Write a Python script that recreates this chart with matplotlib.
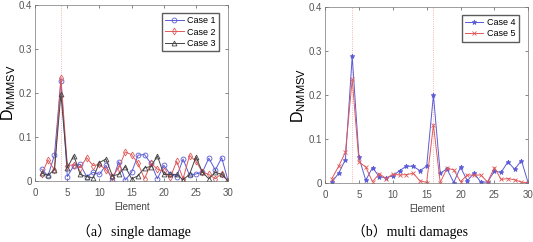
import matplotlib.pyplot as plt
import numpy as np

plt.rcParams['font.family'] = ['Liberation Sans', 'DejaVu Sans']
plt.rcParams['mathtext.fontset'] = 'custom'
plt.rcParams['mathtext.rm'] = 'Liberation Sans'

# Element numbers
elements = np.arange(1, 31)

# (a) single damage
case1 = [0.027, 0.012, 0.059, 0.228, 0.010, 0.035, 0.038, 0.010, 0.020, 0.015,
         0.036, 0.000, 0.044, 0.002, 0.020, 0.059, 0.060, 0.040, 0.005, 0.036,
         0.015, 0.010, 0.050, 0.013, 0.016, 0.020, 0.052, 0.025, 0.053, 0.000]
case2 = [0.015, 0.048, 0.025, 0.235, 0.035, 0.037, 0.030, 0.053, 0.035, 0.038,
         0.025, 0.010, 0.030, 0.066, 0.060, 0.040, 0.005, 0.040, 0.027, 0.022,
         0.008, 0.045, 0.005, 0.058, 0.045, 0.020, 0.015, 0.005, 0.017, 0.000]
case3 = [0.018, 0.013, 0.026, 0.198, 0.030, 0.058, 0.015, 0.010, 0.007, 0.042,
         0.050, 0.012, 0.015, 0.033, 0.005, 0.012, 0.030, 0.033, 0.057, 0.015,
         0.015, 0.015, 0.003, 0.015, 0.055, 0.020, 0.005, 0.020, 0.015, 0.000]

# (b) multi damages
case4 = [0.002, 0.022, 0.053, 0.288, 0.058, 0.006, 0.035, 0.014, 0.012, 0.016,
         0.028, 0.038, 0.038, 0.028, 0.038, 0.200, 0.022, 0.032, 0.001, 0.036,
         0.005, 0.022, 0.002, 0.002, 0.027, 0.024, 0.048, 0.031, 0.051, 0.000]
case5 = [0.010, 0.038, 0.070, 0.236, 0.048, 0.036, 0.003, 0.021, 0.010, 0.020,
         0.018, 0.019, 0.022, 0.005, 0.001, 0.132, 0.001, 0.033, 0.030, 0.003,
         0.018, 0.018, 0.018, 0.002, 0.035, 0.008, 0.010, 0.007, 0.002, 0.000]

damaged_a = [4]
damaged_b = [4, 16]

blue = '#5b5bd6'
red = '#e05a5a'
black = '#444444'
tick_gray = '#555555'

fig = plt.figure(figsize=(5.33, 2.42), dpi=100)
ax1 = fig.add_axes([0.066, 0.252, 0.362, 0.727])
ax2 = fig.add_axes([0.610, 0.244, 0.381, 0.727])


def style_axes(ax, ylabel, label_x):
    ax.set_xlim(0, 30)
    ax.set_ylim(0, 0.4)
    ax.set_xticks([0, 5, 10, 15, 20, 25, 30])
    ax.set_yticks([0, 0.1, 0.2, 0.3, 0.4])
    ax.set_yticklabels(['0', '0.1', '0.2', '0.3', '0.4'])
    ax.tick_params(labelsize=7, colors=tick_gray, length=2, width=0.5,
                   direction='in', top=True, right=True, pad=2)
    ax.tick_params(axis='x', pad=5)
    for s in ax.spines.values():
        s.set_linewidth(0.5)
        s.set_color('#777777')
    ax.set_xlabel('Element', fontsize=7, color='#444444', labelpad=3)
    ax.set_ylabel(ylabel, fontsize=11.5)
    ax.yaxis.set_label_coords(label_x, 0.5)


for d in damaged_a:
    ax1.axvline(d, color='#f0a0a0', lw=0.6, ls=':')
ax1.plot(elements, case1, color=blue, lw=0.7, marker='o', ms=3.5,
         mfc='none', mew=0.6, label='Case 1')
ax1.plot(elements, case2, color=red, lw=0.7, marker='d', ms=3.5,
         mfc='none', mew=0.6, label='Case 2')
ax1.plot(elements, case3, color=black, lw=0.7, marker='^', ms=3.5,
         mfc='none', mew=0.6, label='Case 3')
style_axes(ax1, r'$\mathregular{D_{MMMSV}}$', -0.088)
ax1.legend(loc='upper right', fontsize=6.5, frameon=True, fancybox=False,
           edgecolor='#333333', handlelength=2.0, borderpad=0.35,
           labelspacing=0.25, handletextpad=0.4, bbox_to_anchor=(0.975, 0.98))

for d in damaged_b:
    ax2.axvline(d, color='#f0a0a0', lw=0.6, ls=':')
ax2.plot(elements, case4, color=blue, lw=0.7, marker='*', ms=3.5,
         mew=0.6, label='Case 4')
ax2.plot(elements, case5, color=red, lw=0.7, marker='x', ms=2.5,
         mew=0.6, label='Case 5')
style_axes(ax2, r'$\mathregular{D_{NMMSV}}$', -0.085)
ax2.legend(loc='upper right', fontsize=6.5, frameon=True, fancybox=False,
           edgecolor='#333333', handlelength=2.0, borderpad=0.35,
           labelspacing=0.25, handletextpad=0.4, bbox_to_anchor=(0.975, 0.98))

cap_font = ['Liberation Serif', 'Noto Sans CJK SC']
fig.text(0.252, 0.025, '（a）single damage', ha='center', fontsize=10,
         family=cap_font)
fig.text(0.770, 0.025, '（b）multi damages', ha='center', fontsize=10,
         family=cap_font)

fig.savefig('out.png', dpi=100)
